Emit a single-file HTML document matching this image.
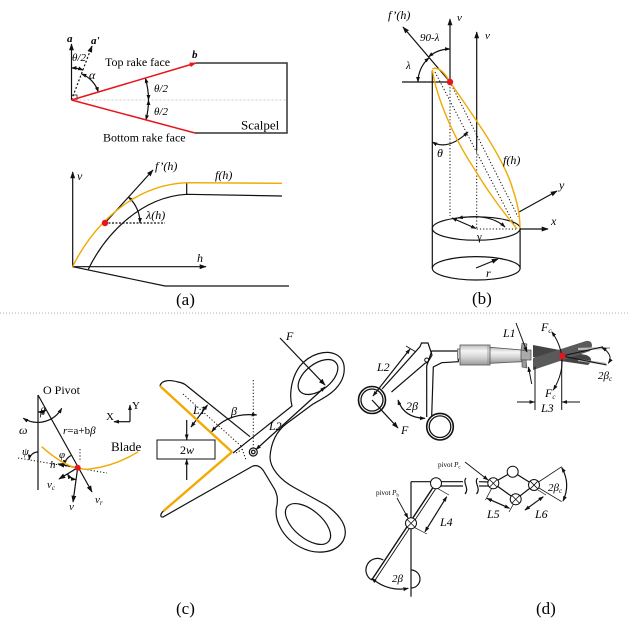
<!DOCTYPE html>
<html><head><meta charset="utf-8"><style>
html,body{margin:0;padding:0;background:#fff;}
svg{display:block;}
text{font-family:"Liberation Serif",serif;fill:#000;}
.i{font-style:italic;}
</style></head><body>
<svg width="630" height="624" viewBox="0 0 630 624" xmlns="http://www.w3.org/2000/svg">
<defs>
<marker id="ah" viewBox="0 0 10 10" refX="9" refY="5" markerWidth="7" markerHeight="7" markerUnits="userSpaceOnUse" orient="auto-start-reverse"><path d="M0,1.5 L10,5 L0,8.5 z" fill="#111"/></marker>
<marker id="as" viewBox="0 0 10 10" refX="9" refY="5" markerWidth="5.5" markerHeight="5.5" markerUnits="userSpaceOnUse" orient="auto-start-reverse"><path d="M0,1.5 L10,5 L0,8.5 z" fill="#111"/></marker>
<marker id="ar" viewBox="0 0 10 10" refX="9" refY="5" markerWidth="7" markerHeight="7" markerUnits="userSpaceOnUse" orient="auto-start-reverse"><path d="M0,1.5 L10,5 L0,8.5 z" fill="#e8141c"/></marker>
<linearGradient id="tube" x1="0" y1="0" x2="0" y2="1">
<stop offset="0" stop-color="#bdbdbd"/><stop offset="0.3" stop-color="#f4f4f4"/><stop offset="0.6" stop-color="#d6d6d6"/><stop offset="1" stop-color="#9a9a9a"/>
</linearGradient>
</defs>

<!-- ===== Panel (a) top ===== -->
<line x1="71.5" y1="100" x2="287" y2="100" stroke="#bbb" stroke-width="0.8" stroke-dasharray="2,2"/>
<g stroke="#111" stroke-width="1.2" fill="none">
<line x1="71.5" y1="100" x2="71.5" y2="44" marker-end="url(#ah)"/>
<line x1="71.5" y1="100" x2="92" y2="46" stroke-dasharray="2,2" marker-end="url(#ah)"/>
<path d="M71.5,68 A32,32 0 0 1 83,70.1" marker-start="url(#as)" marker-end="url(#as)"/>
<path d="M81.5,74 A28,28 0 0 1 98.3,92" marker-start="url(#as)" marker-end="url(#as)"/>
<path d="M71.5,95 H77 V100" stroke-width="0.8"/>
<path d="M145.3,78.1 A77,77 0 0 1 148.5,100" marker-start="url(#as)" marker-end="url(#as)"/>
<path d="M148.5,100 A77,77 0 0 1 145.9,119.9" marker-start="url(#as)" marker-end="url(#as)"/>
<polyline points="196,63 287,63 287,133 195,133" stroke="#333" stroke-width="1.5"/>
</g>
<line x1="71.5" y1="100" x2="196" y2="63" stroke="#e8141c" stroke-width="1.5" marker-end="url(#ar)"/>
<line x1="71.5" y1="100" x2="195" y2="133" stroke="#e8141c" stroke-width="1.5"/>
<text x="67" y="42" font-size="11" font-weight="bold" class="i">a</text>
<text x="91" y="44" font-size="11" font-weight="bold" class="i">a'</text>
<text x="72" y="61" font-size="11" class="i">θ/2</text>
<text x="89" y="79" font-size="12" class="i">α</text>
<text x="192" y="58" font-size="11" font-weight="bold" class="i">b</text>
<text x="105" y="66" font-size="12">Top rake face</text>
<text x="103" y="141.5" font-size="12">Bottom rake face</text>
<text x="241" y="129.5" font-size="13">Scalpel</text>
<text x="154" y="92" font-size="11" class="i">θ/2</text>
<text x="154" y="115" font-size="11" class="i">θ/2</text>

<!-- ===== Panel (a) bottom ===== -->
<g stroke="#111" stroke-width="1.2" fill="none">
<line x1="72.7" y1="266.7" x2="72.7" y2="172" marker-end="url(#ah)"/>
<line x1="72.7" y1="266.7" x2="206" y2="266.7" marker-end="url(#ah)"/>
<polyline points="72.7,266.7 165,286 289,286"/>
<path d="M88.3,269.3 C105,235 140,197 186.7,194.3 L282,196"/>
<line x1="186.7" y1="182.7" x2="186.7" y2="194.3"/>
<line x1="105" y1="223" x2="153" y2="170" marker-end="url(#ah)"/>
<line x1="105" y1="223" x2="165" y2="223" stroke-dasharray="2,1.5"/>
<path d="M128.4,197 A35,35 0 0 1 140,223" marker-start="url(#as)" marker-end="url(#as)"/>
</g>
<path d="M72.7,266.7 C90,230 130,185 186.7,182.7 L282,183.3" stroke="#f2a900" stroke-width="1.4" fill="none"/>
<circle cx="105" cy="223" r="3.2" fill="#e8141c"/>
<text x="77" y="180" font-size="12" class="i">v</text>
<text x="197" y="262" font-size="12" class="i">h</text>
<text x="155" y="170" font-size="12" class="i">f’(h)</text>
<text x="215" y="179" font-size="12" class="i">f(h)</text>
<text x="146" y="219" font-size="12" class="i">λ(h)</text>
<text x="176" y="305" font-size="17">(a)</text>

<!-- ===== Panel (b) ===== -->
<g stroke="#111" stroke-width="1.2" fill="none">
<line x1="402" y1="82" x2="450" y2="82"/>
<line x1="450" y1="82" x2="403" y2="27" marker-end="url(#ah)"/>
<line x1="450" y1="82" x2="450" y2="19" marker-end="url(#ah)"/>
<line x1="476.7" y1="150" x2="476.7" y2="32" marker-end="url(#ah)"/>
<path d="M428.6,56.9 A33,33 0 0 1 450,49" marker-start="url(#as)" marker-end="url(#as)"/>
<path d="M429.2,57.7 A32,32 0 0 0 418,82" marker-start="url(#as)" marker-end="url(#as)"/>
<line x1="432.3" y1="71" x2="432.3" y2="268"/>
<ellipse cx="476.2" cy="228.5" rx="43.9" ry="11.7"/>
<ellipse cx="476.2" cy="268.3" rx="43.9" ry="11.7"/>
<line x1="520.1" y1="228.5" x2="520.1" y2="268.3"/>
<path d="M432.3,142 Q448,151 468,132" marker-start="url(#as)" marker-end="url(#as)"/>
<line x1="519" y1="212" x2="557" y2="191" marker-end="url(#ah)"/>
<line x1="520" y1="229" x2="548" y2="229" marker-end="url(#ah)"/>
<line x1="476" y1="228.5" x2="452" y2="218" marker-start="url(#as)" marker-end="url(#as)"/>
<path d="M458,218 Q490,213 505,227" marker-start="url(#as)" marker-end="url(#as)"/>
<line x1="476" y1="268" x2="498" y2="259" marker-end="url(#ah)"/>
</g>
<g stroke="#111" stroke-width="1" fill="none" stroke-dasharray="1.2,2">
<line x1="450" y1="84" x2="450" y2="216"/>
<line x1="435" y1="72" x2="516" y2="228"/>
<line x1="450" y1="82" x2="518" y2="216.7"/>
<line x1="476.7" y1="150" x2="476.7" y2="229"/>
<line x1="476.7" y1="229" x2="516" y2="229"/>
</g>
<g stroke="#f2a900" stroke-width="1.4" fill="none">
<path d="M432.3,69 Q440,65 450,82 C475,118 505,160 513,190 Q520,210 520,228"/>
<path d="M432.3,70 C437,100 455,140 475,170 C490,195 505,214 517,229"/>
</g>
<circle cx="450" cy="82" r="3.2" fill="#e8141c"/>
<text x="388" y="19" font-size="12" class="i">f’(h)</text>
<text x="457" y="21" font-size="11" class="i">v</text>
<text x="485" y="39" font-size="11" class="i">v</text>
<text x="420" y="41" font-size="11" class="i">90-λ</text>
<text x="406" y="69" font-size="11" class="i">λ</text>
<text x="437" y="157" font-size="12" class="i">θ</text>
<text x="503" y="164" font-size="12" class="i">f(h)</text>
<text x="559" y="189" font-size="12" class="i">y</text>
<text x="551" y="225" font-size="12" class="i">x</text>
<text x="477" y="240" font-size="11">γ</text>
<text x="486" y="277" font-size="12" class="i">r</text>
<text x="472" y="304" font-size="17">(b)</text>

<!-- divider -->
<line x1="0" y1="313" x2="630" y2="313" stroke="#999" stroke-width="0.8" stroke-dasharray="1,2"/>

<!-- ===== Panel (c) pivot ===== -->
<g stroke="#111" stroke-width="1.2" fill="none">
<line x1="38" y1="395" x2="38" y2="490"/>
<line x1="38" y1="395" x2="92" y2="492" marker-end="url(#ah)"/>
<path d="M23.3,418.3 A27.5,27.5 0 0 0 61.7,408.3" marker-start="url(#as)" marker-end="url(#as)"/>
<path d="M38,412 A17,17 0 0 0 46.3,409.9" marker-start="url(#as)" marker-end="url(#as)"/>
<line x1="130" y1="421.7" x2="130" y2="405" marker-end="url(#as)"/>
<line x1="130" y1="421.7" x2="114" y2="421.7" marker-end="url(#as)"/>
<path d="M38,452 A9,9 0 0 0 29.1,459.6" marker-end="url(#as)"/>
<path d="M70.9,455.5 A14,14 0 0 0 64,465.1" marker-end="url(#as)"/>
<line x1="77.7" y1="467.7" x2="58" y2="464" marker-end="url(#ah)"/>
<line x1="77.7" y1="467.7" x2="59" y2="479" marker-end="url(#ah)"/>
<line x1="77.7" y1="467.7" x2="73" y2="502" marker-end="url(#ah)"/>
<path d="M67.4,474 A12,12 0 0 0 76,479.6" marker-start="url(#as)" marker-end="url(#as)"/>
</g>
<g stroke="#111" stroke-width="1" fill="none" stroke-dasharray="1.2,2">
<line x1="18" y1="458" x2="107" y2="473"/>
<line x1="80" y1="449" x2="80" y2="462"/>
</g>
<path d="M41.7,446.7 Q70,472 90,469 Q115,466 138.3,451.7" stroke="#f2a900" stroke-width="1.4" fill="none"/>
<circle cx="77.7" cy="467.7" r="3" fill="#e8141c"/>
<text x="43" y="394" font-size="12">O Pivot</text>
<text x="40" y="415" font-size="10" class="i">β</text>
<text x="19" y="434" font-size="12" class="i">ω</text>
<text x="63" y="434" font-size="11"><tspan class="i">r</tspan>=a+b<tspan class="i">β</tspan></text>
<text x="106" y="420" font-size="11">X</text>
<text x="132" y="409" font-size="11">Y</text>
<text x="111" y="451" font-size="13">Blade</text>
<text x="22" y="455" font-size="11" class="i">ψ</text>
<text x="59" y="458" font-size="11" class="i">φ</text>
<text x="50" y="468" font-size="11" class="i">h</text>
<text x="47" y="488" font-size="11" class="i">v<tspan font-size="7" dy="2">c</tspan></text>
<text x="69" y="510" font-size="11" class="i">v</text>
<text x="95" y="503" font-size="11" class="i">v<tspan font-size="7" dy="2">r</tspan></text>

<!-- ===== Panel (c) scissors ===== -->
<g stroke="#111" stroke-width="1.2" fill="none">
<path d="M160,386 C161,381 168,379 178,382 C184,383 186,385 187,386 L250,436.7"/>
<path d="M163.5,511 C160,514 160,517.5 163,517 L252,466.5"/>
<path d="M233,453 L292,406 C289,395 291,378 300,366 C310,354 326,349 337,355 C347,361 346,376 338,386 C332,394 322,399 313,404 L286,424 C277,431 271,442 270,457 C270,468 280,480 295,488 L326,505 C340,515 350,528 343,541 C335,554 315,555 300,547 C283,538 273,520 277,505 C278,498 277,495 275,490 L263,470 C259,465 255,465 252,466.5"/>
<ellipse cx="318" cy="377" rx="23" ry="13" transform="rotate(-38 318 377)"/>
<ellipse cx="308" cy="524" rx="27" ry="14" transform="rotate(40 308 524)"/>
<circle cx="253.3" cy="452" r="4"/>
<circle cx="253.3" cy="452" r="1.8"/>
<rect x="157" y="440" width="58" height="19" stroke-width="1"/>
<line x1="186.7" y1="420" x2="186.7" y2="439.5" marker-end="url(#as)"/>
<line x1="186.7" y1="480" x2="186.7" y2="459.5" marker-end="url(#as)"/>
<line x1="191" y1="427" x2="207.5" y2="405" marker-start="url(#as)" marker-end="url(#as)"/>
<path d="M211.7,431.7 Q228,412 256.7,415" marker-start="url(#as)" marker-end="url(#as)"/>
<line x1="256" y1="449.5" x2="325" y2="387" marker-start="url(#as)" marker-end="url(#as)"/>
<line x1="280" y1="338" x2="325" y2="385" marker-end="url(#ah)"/>
</g>
<g stroke="#111" stroke-width="1" fill="none" stroke-dasharray="1.2,2">
<line x1="183" y1="394" x2="241" y2="446"/>
<line x1="241" y1="446" x2="246" y2="460"/>
<line x1="253.3" y1="380" x2="253.3" y2="448"/>
<line x1="236" y1="453" x2="243" y2="449"/>
</g>
<g stroke="#f2a900" stroke-width="2.4" fill="none">
<line x1="160" y1="386" x2="232" y2="452"/>
<line x1="163.5" y1="511" x2="232" y2="452"/>
</g>
<text x="180" y="454" font-size="12">2<tspan class="i">w</tspan></text>
<text x="193" y="414" font-size="12" class="i">L1</text>
<text x="231" y="415" font-size="12" class="i">β</text>
<text x="269" y="430" font-size="12" class="i">L2</text>
<text x="286" y="340" font-size="12" class="i">F</text>
<text x="176" y="614" font-size="17">(c)</text>

<!-- ===== Panel (d) top instrument ===== -->
<g stroke="#111" stroke-width="1.2" fill="none">
<circle cx="372" cy="400" r="13.5" stroke-width="1.6"/>
<circle cx="372" cy="400" r="11" stroke-width="1.3"/>
<path d="M382,389 L420,346.7 L421.5,343 L428,343 L432,355 L428,362 L425,363.3 L391.5,392"/>
<circle cx="440" cy="426.7" r="13.3" stroke-width="1.6"/>
<circle cx="440" cy="426.7" r="10.8" stroke-width="1.3"/>
<path d="M426.7,417 L426.7,366 L431.7,351 L458.3,351 L458.3,361.7 L441.7,362.7 L433.3,367 L431.7,416"/>
<circle cx="426.7" cy="360" r="2" stroke-width="1"/>
<line x1="373" y1="396" x2="410" y2="349" marker-start="url(#as)" marker-end="url(#as)"/>
<line x1="406" y1="346" x2="416" y2="352" stroke-width="0.8"/>
<line x1="372" y1="400" x2="398" y2="428" marker-end="url(#ah)"/>
<path d="M398,400 Q404,418 425,418.3" marker-start="url(#as)" marker-end="url(#as)"/>
</g>
<rect x="457.5" y="349" width="3" height="10" fill="#ccc" stroke="#555" stroke-width="0.7"/>
<rect x="460" y="345" width="30" height="20" fill="url(#tube)" stroke="#555" stroke-width="0.8"/>
<line x1="488" y1="345" x2="488" y2="365" stroke="#777" stroke-width="0.6"/>
<polygon points="490,347.3 522,350 522,361.7 490,363.3" fill="url(#tube)" stroke="#555" stroke-width="0.8"/>
<rect x="521" y="350" width="10" height="10" fill="#aaa" stroke="#444" stroke-width="0.7"/>
<polygon points="522,343 527,344 526,351 521,350" fill="#999" stroke="#444" stroke-width="0.6"/>
<polygon points="522,360 526,360 527,368 522,367" fill="#999" stroke="#444" stroke-width="0.6"/>
<path d="M533,345 L586,355 Q592,357 591,362 L588,365 L533,357 Z" fill="#444"/>
<path d="M533,358 L586,341 Q592,340 592,346 L590,351 L533,370 Z" fill="#5a5a5a"/>
<line x1="578" y1="349" x2="610" y2="348" stroke="#bbb" stroke-width="2.2"/>
<line x1="578" y1="360" x2="606" y2="364" stroke="#aaa" stroke-width="2.2"/>
<g stroke="#111" stroke-width="1" fill="none">
<line x1="535" y1="366.7" x2="535" y2="410"/>
<line x1="561.7" y1="360" x2="561.7" y2="410"/>
<line x1="517" y1="402" x2="534.5" y2="402" marker-end="url(#as)"/>
<line x1="580" y1="402" x2="562.2" y2="402" marker-end="url(#as)"/>
<line x1="516" y1="323" x2="527" y2="352" marker-end="url(#as)"/>
<line x1="531.7" y1="384" x2="528.5" y2="367" marker-end="url(#as)"/>
<path d="M551.7,331.7 Q571.6,360 553.3,390" marker-start="url(#as)" marker-end="url(#as)"/>
<line x1="562" y1="356" x2="603" y2="346.7"/>
<line x1="562" y1="356" x2="606.7" y2="365"/>
<path d="M601.7,347.3 Q614,355 608.3,363.3" marker-start="url(#as)" marker-end="url(#as)"/>
</g>
<circle cx="562.3" cy="356" r="3.2" fill="#e8141c"/>
<text x="377" y="371" font-size="12" class="i">L2</text>
<text x="406" y="410" font-size="12" class="i">2β</text>
<text x="401" y="434" font-size="12" class="i">F</text>
<text x="503" y="337" font-size="12" class="i">L1</text>
<text x="541" y="331" font-size="12" class="i">F<tspan font-size="7" dy="2">c</tspan></text>
<text x="545" y="397" font-size="12" class="i">F<tspan font-size="7" dy="2">c</tspan></text>
<text x="541" y="412" font-size="12" class="i">L3</text>
<text x="598" y="379" font-size="11" class="i">2β<tspan font-size="7" dy="2">c</tspan></text>

<!-- ===== Panel (d) bottom linkage ===== -->
<g stroke="#111" stroke-width="1.2" fill="none">
<line x1="411" y1="481.7" x2="411" y2="596.7"/>
<line x1="411" y1="481.7" x2="463" y2="481.7"/>
<line x1="436" y1="486" x2="463" y2="486"/>
<line x1="436" y1="483" x2="371.7" y2="580" stroke-width="1.4"/>
<line x1="438.5" y1="484.5" x2="374.5" y2="581" stroke-width="0.9"/>
<path d="M383.3,560 A11.5,11.5 0 0 0 371.7,580"/>
<path d="M411,570 A9,9 0 0 1 411,588"/>
<path d="M371.7,578.3 Q388,592 408.3,588.3" marker-start="url(#as)" marker-end="url(#as)"/>
<path d="M466,478 C462,483 470,488 465,494"/>
<path d="M477.5,478 C473.5,483 481.5,488 476.5,494"/>
<line x1="479" y1="481.7" x2="490" y2="482"/>
<line x1="479" y1="486" x2="490" y2="486"/>
<polygon points="493,483 512.7,471.7 534,485 515.7,499.3"/>
<line x1="465" y1="462" x2="488" y2="480" stroke-width="0.9" marker-end="url(#as)"/>
<line x1="397" y1="498" x2="408" y2="518" stroke-width="0.9" marker-end="url(#as)"/>
<line x1="425" y1="531.7" x2="446.7" y2="496.7" marker-start="url(#as)" marker-end="url(#as)"/>
<line x1="436.7" y1="488" x2="449" y2="495" stroke-width="0.7"/>
<line x1="413" y1="526.7" x2="427" y2="534" stroke-width="0.7"/>
<line x1="491.7" y1="488.3" x2="485.5" y2="500" stroke-width="0.7"/>
<line x1="513.5" y1="504" x2="509" y2="512" stroke-width="0.7"/>
<line x1="487" y1="498.3" x2="509.5" y2="508.3" marker-start="url(#as)" marker-end="url(#as)"/>
<line x1="538" y1="490" x2="546" y2="495" stroke-width="0.7"/>
<line x1="525" y1="510" x2="543.3" y2="496.7" marker-start="url(#as)" marker-end="url(#as)"/>
<line x1="534" y1="485" x2="561.7" y2="466.7" stroke-width="0.8"/>
<line x1="534" y1="485" x2="561.7" y2="501.7" stroke-width="0.8"/>
<path d="M561.7,467.5 Q571,484 563,501" marker-start="url(#as)" marker-end="url(#as)"/>
</g>
<g stroke="#111" stroke-width="1" fill="#fff">
<circle cx="436" cy="483.3" r="5.5"/>
<circle cx="411" cy="523.3" r="5.5"/>
<circle cx="493.3" cy="483.3" r="5.5"/>
<circle cx="512.7" cy="471.7" r="5.5"/>
<circle cx="534" cy="485" r="5.5"/>
<circle cx="515.7" cy="499.3" r="5.5"/>
</g>
<g stroke="#111" stroke-width="0.8">
<path d="M407.2,519.5 L414.8,527.1 M414.8,519.5 L407.2,527.1"/>
<path d="M489.5,479.5 L497.1,487.1 M497.1,479.5 L489.5,487.1"/>
<path d="M530.2,481.2 L537.8,488.8 M537.8,481.2 L530.2,488.8"/>
<path d="M511.9,495.5 L519.5,503.1 M519.5,495.5 L511.9,503.1"/>
</g>
<text x="438" y="467" font-size="7">pivot <tspan class="i">P</tspan><tspan font-size="5" dy="1.5">c</tspan></text>
<text x="376" y="495" font-size="7">pivot <tspan class="i">P</tspan><tspan font-size="5" dy="1.5">h</tspan></text>
<text x="440" y="526" font-size="12" class="i">L4</text>
<text x="487" y="518" font-size="12" class="i">L5</text>
<text x="535" y="518" font-size="12" class="i">L6</text>
<text x="548" y="491" font-size="11" class="i">2β<tspan font-size="7" dy="2">c</tspan></text>
<text x="392" y="582" font-size="11" class="i">2β</text>
<text x="536" y="614" font-size="17">(d)</text>
</svg>
</body></html>
